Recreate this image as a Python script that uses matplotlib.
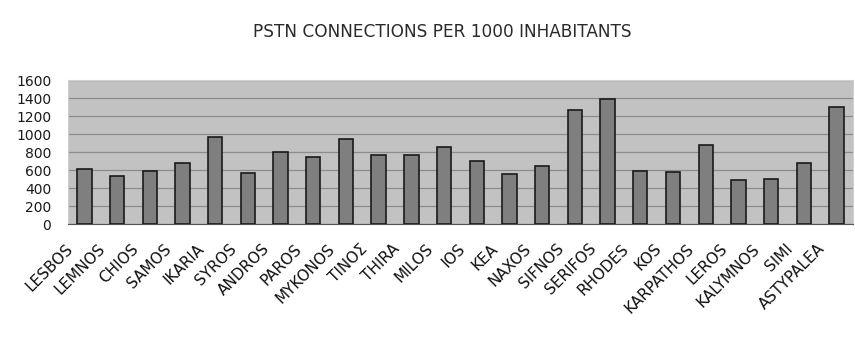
import numpy as np
import matplotlib.pyplot as plt
import matplotlib.transforms as mtransforms

islands = [
    "LESBOS", "LEMNOS", "CHIOS", "SAMOS", "IKARIA", "SYROS", "ANDROS",
    "PAROS", "MYKONOS", "TINOΣ", "THIRA", "MILOS", "IOS", "KEA", "NAXOS",
    "SIFNOS", "SERIFOS", "RHODES", "KOS", "KARPATHOS", "LEROS",
    "KALYMNOS", "SIMI", "ASTYPALEA",
]
connections = [
    612, 536, 594, 683, 971, 565, 798,
    746, 949, 768, 768, 854, 702, 558, 646,
    1270, 1386, 591, 580, 876, 491,
    502, 680, 1297,
]
yticks = [0, 200, 400, 600, 800, 1000, 1200, 1400, 1600]

plt.rcParams["font.family"] = ["DejaVu Sans"]

fig = plt.figure(figsize=(8.55, 3.38), dpi=100)
ax = fig.add_axes([0.0795, 0.337, 0.918, 0.426])

x = np.arange(len(islands))
ax.set_facecolor("#c2c2c2")
ax.set_axisbelow(True)
ax.yaxis.grid(True, color="#8c8c8c", lw=0.9)
ax.bar(x, connections, width=0.44, color="#7f7f7f",
       edgecolor="#1a1a1a", lw=1.2, zorder=3)

ax.set_xlim(-0.5, len(islands) - 0.5)
ax.set_ylim(0, 1600)
ax.set_yticks(yticks)
ax.set_yticklabels([str(v) for v in yticks], fontsize=10, color="#1a1a1a")
ax.set_xticks(x)
ax.set_xticklabels(islands, rotation=45, ha="right", rotation_mode="anchor",
                   fontsize=11, color="#111111")
ax.tick_params(axis="y", length=0, pad=12)
ax.tick_params(axis="x", length=0, pad=5)

# nudge the slanted island names down and to the left of their bars
shift = mtransforms.ScaledTranslation(-0.19, -0.10, fig.dpi_scale_trans)
for lab in ax.get_xticklabels():
    lab.set_transform(lab.get_transform() + shift)

for side in ("top", "right", "left"):
    ax.spines[side].set_color("#d0d0d0")
ax.spines["bottom"].set_color("#555555")

fig.text(0.517, 0.905, "PSTN CONNECTIONS PER 1000 INHABITANTS",
         ha="center", va="center", fontsize=12.2, color="#2a2a2a")

fig.savefig("out.png", dpi=100)
